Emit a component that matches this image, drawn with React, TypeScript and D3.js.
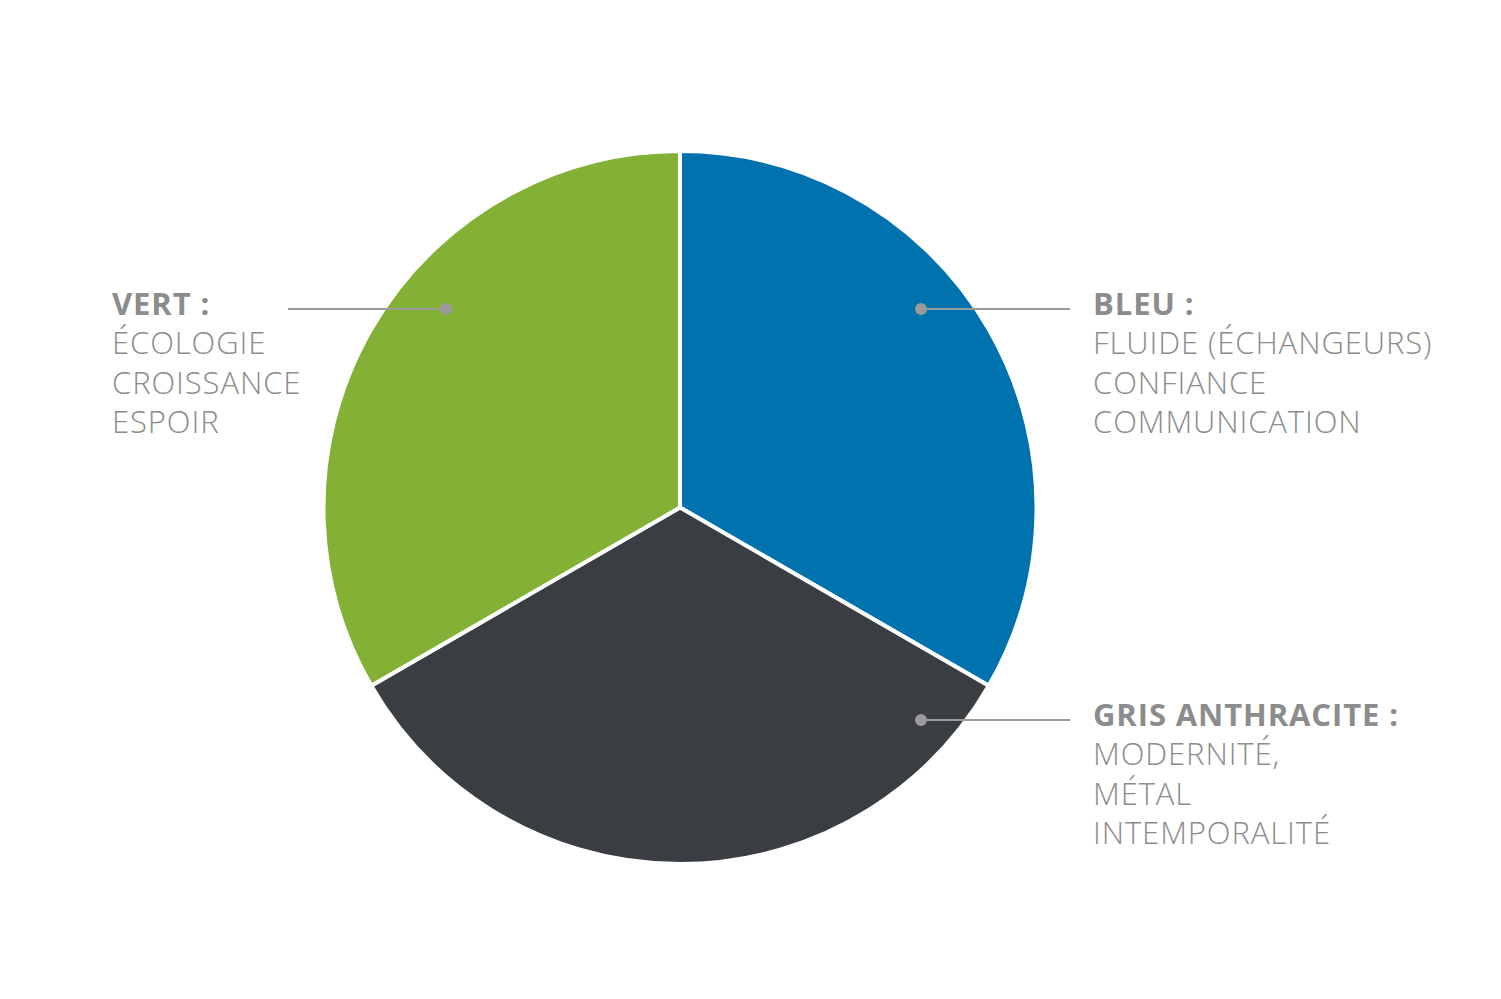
import React from "react";
import * as d3 from "d3";

const categories = ["BLEU :", "GRIS ANTHRACITE :", "VERT :"];
const values = [1, 1, 1];
const colors = ["#0072ae", "#3a3e42", "#82b136"];
const descriptions = [
  ["FLUIDE (ÉCHANGEURS)", "CONFIANCE", "COMMUNICATION"],
  ["MODERNITÉ,", "MÉTAL", "INTEMPORALITÉ"],
  ["ÉCOLOGIE", "CROISSANCE", "ESPOIR"],
];

const W = 1501, H = 999;
const cx = 680, cy = 507.5, R = 356.5;
// label layout: dot position, line end, text x
const labelLayout = [
  { dot: [921, 309], lineEnd: 1070, textX: 1093 },
  { dot: [921, 720], lineEnd: 1070, textX: 1093 },
  { dot: [446, 309], lineEnd: 288, textX: 112 },
];

export default function App() {
  const pie = d3.pie<number>().sort(null).value((d) => d);
  const arcs = pie(values);
  const arc = d3.arc<d3.PieArcDatum<number>>().innerRadius(0).outerRadius(R);
  const font = "'Open Sans', sans-serif";
  const textColor = "#8c8c8c";
  return (
    <svg width={W} height={H} style={{ position: "absolute", left: 0, top: 0, background: "#fff" }}>
      <g transform={`translate(${cx},${cy})`}>
        {arcs.map((a, i) => (
          <path key={i} d={arc(a) || ""} fill={colors[i]} stroke="#fff" strokeWidth={4} strokeLinejoin="round" />
        ))}
      </g>
      {labelLayout.map((l, i) => {
        const y = l.dot[1];
        return (
          <g key={i}>
            <line x1={l.dot[0]} y1={y} x2={l.lineEnd} y2={y} stroke="#9a9a9a" strokeWidth={2} />
            <circle cx={l.dot[0]} cy={y} r={6} fill="#9a9a9a" />
            <text x={l.textX} y={y - 2} fontFamily={font} fontWeight={700} fontSize={31} letterSpacing={0.9} fill={textColor} dominantBaseline="middle">
              {categories[i]}
            </text>
            {descriptions[i].map((t, j) => (
              <text key={j} x={l.textX} y={y + 37 + j * 39.5} fontFamily={font} fontWeight={300} fontSize={31} letterSpacing={0.9} fill={textColor} dominantBaseline="middle">
                {t}
              </text>
            ))}
          </g>
        );
      })}
    </svg>
  );
}
